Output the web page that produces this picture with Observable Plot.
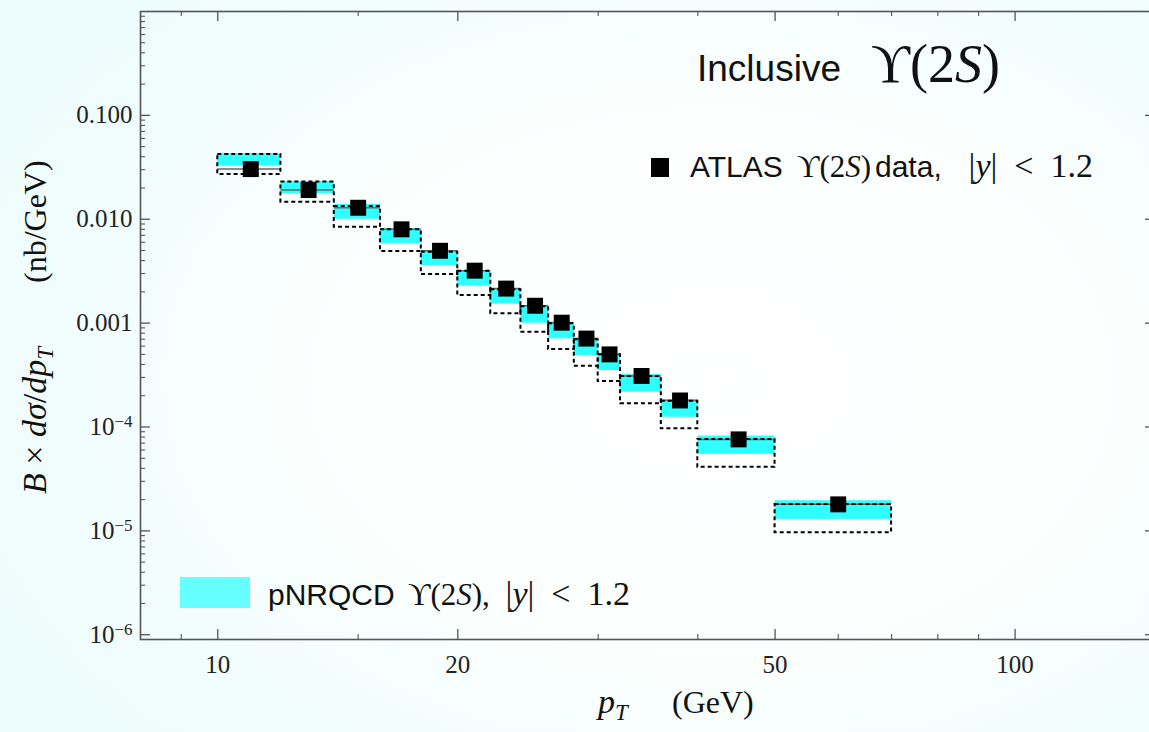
<!DOCTYPE html>
<html>
<head>
<meta charset="utf-8">
<script src="https://cdn.jsdelivr.net/npm/d3@7"></script>
<script src="https://cdn.jsdelivr.net/npm/@observablehq/plot@0.6"></script>
<style>
  html, body { margin: 0; padding: 0; overflow: hidden; }
  body {
    width: 1149px; height: 732px;
    background: radial-gradient(ellipse 70% 75% at 62% 52%, #ffffff 0%, #fcfffe 45%, #f2fdfd 80%, #edfcfc 100%);
  }
  #chart { position: relative; width: 1149px; height: 732px; overflow: hidden; }
</style>
</head>
<body>
<div id="chart"></div>
<script>
// pT bins (GeV)
const binLo = [10, 12, 14, 16, 18, 20, 22, 24, 26, 28, 30, 32, 36, 40, 50];
const binHi = [12, 14, 16, 18, 20, 22, 24, 26, 28, 30, 32, 36, 40, 50, 70];
const binCenter = [11, 13, 15, 17, 19, 21, 23, 25, 27, 29, 31, 34, 38, 45, 60];

// ATLAS Upsilon(2S) measured B x dsigma/dpT (nb/GeV), |y| < 1.2
const atlas = [0.0304, 0.0191, 0.0129, 0.0080, 0.00497, 0.00320, 0.00215, 0.00147,
               0.00101, 0.00071, 0.00050, 0.00031, 0.000180, 7.6e-5, 1.80e-5];

// pNRQCD prediction band (upper / lower edge)
const bandHi = [0.0428, 0.0231, 0.0139, 0.00810, 0.00501, 0.00321, 0.00217, 0.00148,
                0.00102, 0.000722, 0.000513, 0.000320, 0.000184, 8.19e-5, 1.95e-5];
const bandLo = [0.0326, 0.0176, 0.0100, 0.00582, 0.00359, 0.00227, 0.00153, 0.000998,
                0.000706, 0.000488, 0.000349, 0.000216, 0.000124, 5.46e-5, 1.29e-5];

// dashed boxes (upper / lower edge)
const boxHi = [0.0421, 0.0228, 0.0133, 0.00793, 0.00482, 0.00316, 0.00209, 0.00144,
               0.000985, 0.000690, 0.000495, 0.000306, 0.000177, 7.57e-5, 1.79e-5];
const boxLo = [0.0270, 0.0146, 0.00839, 0.00490, 0.00294, 0.00184, 0.00123, 0.000817,
               0.000557, 0.000385, 0.000274, 0.000167, 9.6e-5, 4.09e-5, 9.6e-6];

// axis ticks
const xMajor = [10, 20, 50, 100];
const xMinor = [9, 15, 30, 40, 60, 70, 80, 90];
const yMajor = [1e-6, 1e-5, 1e-4, 1e-3, 1e-2, 1e-1];
const yMajorLabels = ["10^−6", "10^−5", "10^−4", "0.001", "0.010", "0.100"];
const yMinor = [];
for (let e = -7; e <= -1; e++) for (let m = 2; m <= 9; m++) {
  const v = m * Math.pow(10, e);
  if (v > 9e-7 && v < 1) yMinor.push(v);
}

const rows = binLo.map((lo, i) => ({
  lo, hi: binHi[i], pt: binCenter[i], value: atlas[i],
  bandHi: bandHi[i], bandLo: bandLo[i], boxHi: boxHi[i], boxLo: boxLo[i]
}));

const W = 1160, H = 732;
const mL = 140, mR = 5, mT = 11, mB = 93;
const frameW = W - mL - mR, frameH = H - mT - mB;
const AX = "#555";
const SANS = "'Liberation Sans', Arial, sans-serif";
const SERIF = "'Liberation Serif', 'DejaVu Serif', serif";

const chart = Plot.plot({
  width: W, height: H,
  marginLeft: mL, marginRight: mR, marginTop: mT, marginBottom: mB,
  x: {type: "log", domain: [8, 150]},
  y: {type: "log", domain: [9e-7, 1]},
  style: {background: "transparent", fontFamily: SERIF, color: "#222"},
  marks: [
    Plot.rect(rows, {x1: "lo", x2: "hi", y1: "bandLo", y2: "bandHi", fill: "#2effff"}),
    Plot.ruleY(rows, {x1: "lo", x2: "hi", y: "value", stroke: "#666", strokeWidth: 1.5}),
    Plot.rect(rows, {x1: "lo", x2: "hi", y1: "boxLo", y2: "boxHi", fill: "none",
                     stroke: "#000", strokeWidth: 2, strokeDasharray: "4,3"}),
    Plot.dot(rows, {x: "pt", y: "value", symbol: "square", r: 9, fill: "#000"}),
    // inward frame ticks
    Plot.ruleY(yMajor, {insetRight: frameW - 10, stroke: AX, strokeWidth: 1.3}),
    Plot.ruleY(yMinor, {insetRight: frameW - 5, stroke: AX, strokeWidth: 1.1}),
    Plot.ruleY(yMajor, {insetLeft: frameW - 10, stroke: AX, strokeWidth: 1.3}),
    Plot.ruleY(yMinor, {insetLeft: frameW - 5, stroke: AX, strokeWidth: 1.1}),
    Plot.ruleX(xMajor, {insetTop: frameH - 10, stroke: AX, strokeWidth: 1.3}),
    Plot.ruleX(xMinor, {insetTop: frameH - 5, stroke: AX, strokeWidth: 1.1}),
    Plot.ruleX(xMajor, {insetBottom: frameH - 10, stroke: AX, strokeWidth: 1.3}),
    Plot.ruleX(xMinor, {insetBottom: frameH - 5, stroke: AX, strokeWidth: 1.1}),
    Plot.frame({stroke: AX, strokeWidth: 1.6}),
    Plot.axisX(xMajor, {tickSize: 0, tickPadding: 16, label: null, fontSize: 25,
                        tickFormat: d => String(d)}),
    Plot.axisY(yMajor, {tickSize: 0, tickPadding: 8, label: null, fontSize: 25,
                        tickFormat: d => yMajorLabels[yMajor.indexOf(d)]})
  ]
});

// keep the drawing at its native size (no shrink-to-fit)
chart.style.maxWidth = "none";
chart.style.width = W + "px";
chart.style.height = H + "px";
document.getElementById("chart").appendChild(chart);
const svg = d3.select(chart);

// powers of ten as superscripts
svg.selectAll("text").each(function () {
  const s = this.textContent;
  if (!s.includes("^")) return;
  const [base, exp] = s.split("^");
  this.textContent = "";
  const t = d3.select(this);
  t.append("tspan").text(base);
  t.append("tspan").text(exp).attr("dy", "-0.45em").attr("font-size", 17);
});

function rich(x, y, parts, opts = {}) {
  const t = svg.append("text")
    .attr("x", x).attr("y", y)
    .attr("fill", "#111")
    .attr("text-anchor", opts.anchor || "start")
    .style("white-space", "pre");
  if (opts.rotate) t.attr("transform", `rotate(${opts.rotate},${x},${y})`);
  for (const p of parts) {
    const s = t.append("tspan").text(p.t)
      .attr("font-family", p.sans ? SANS : SERIF)
      .attr("font-size", p.s);
    if (p.i) s.attr("font-style", "italic");
    if (p.dy) s.attr("dy", p.dy);
  }
  return t;
}
const upsilon = s => [{t: "ϒ(2", s}, {t: "S", s, i: true}, {t: ")", s}];
const rapidity = s => [{t: "|", s}, {t: "y", s, i: true}, {t: "|  <  1.2", s}];

// title
rich(697, 81, [{t: "Inclusive", sans: true, s: 37}]);
rich(1000, 82, upsilon(54), {anchor: "end"});

// data legend
svg.append("rect").attr("x", 651).attr("y", 158).attr("width", 18).attr("height", 19).attr("fill", "#000");
rich(690, 177, [{t: "ATLAS", sans: true, s: 30}]);
rich(797, 177, upsilon(31));
rich(875, 177, [{t: "data,", sans: true, s: 30}]);
rich(1093, 177, rapidity(34), {anchor: "end"});

// theory legend
svg.append("rect").attr("x", 180).attr("y", 577).attr("width", 70).attr("height", 31).attr("fill", "#66ffff");
rich(268, 605, [{t: "pNRQCD", sans: true, s: 30}]);
rich(408, 605, [...upsilon(31), {t: ",", s: 31}]);
rich(630, 605, rapidity(34), {anchor: "end"});

// axis titles
rich(598, 713, [
  {t: "p", s: 34, i: true},
  {t: "T", s: 23, i: true, dy: 7}
]);
rich(672, 713, [{t: "(GeV)", s: 32}]);
rich(46, 494, [
  {t: "B", s: 34, i: true},
  {t: " × ", s: 34},
  {t: "dσ", s: 34, i: true},
  {t: "/", s: 34},
  {t: "dp", s: 34, i: true},
  {t: "T", s: 23, i: true, dy: 7}
], {rotate: -90});
rich(46, 283, [{t: "(nb/GeV)", s: 32}], {rotate: -90});
</script>
</body>
</html>
